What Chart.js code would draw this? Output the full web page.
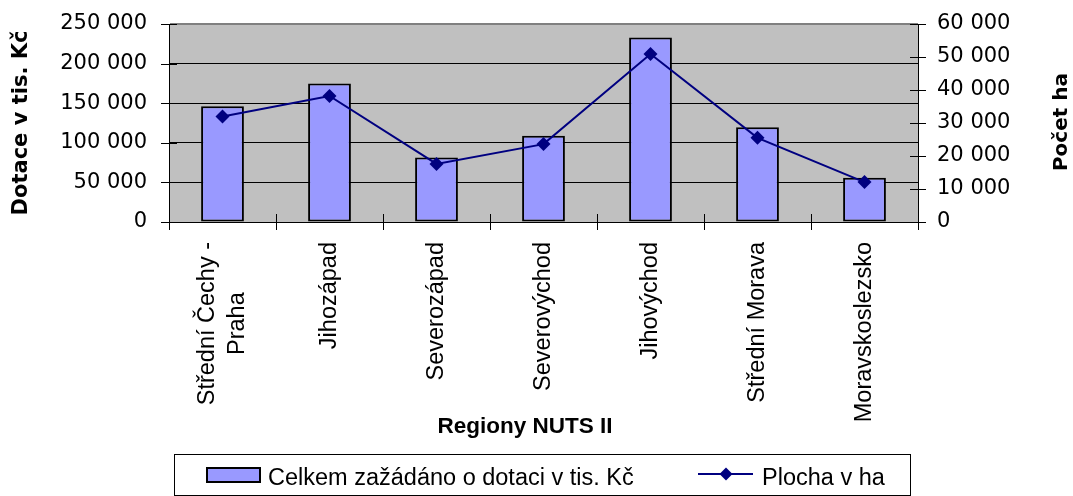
<!DOCTYPE html>
<html><head><meta charset="utf-8">
<script src="https://cdn.jsdelivr.net/npm/chart.js@4/dist/chart.umd.min.js"></script>
<style>html,body{margin:0;padding:0;background:#fff}#wrap{width:1073px;height:496px;position:relative}</style>
</head><body><div id="wrap"><canvas id="c" width="1073" height="496"></canvas></div>
<script>
// ---- data ----
const categories = [["Střední Čechy -", "Praha"], "Jihozápad", "Severozápad", "Severovýchod", "Jihovýchod", "Střední Morava", "Moravskoslezsko"];
const dotace = [146000, 175000, 81500, 109000, 233000, 119500, 56000];
const plocha = [32000, 38200, 17600, 23600, 50900, 25500, 12100];
const leftTickMax = 250000, leftTickStep = 50000;
const rightTickMax = 60000, rightTickStep = 10000;
const barLabel = "Celkem zažádáno o dotaci v tis. Kč";
const lineLabel = "Plocha v ha";
const xTitle = "Regiony NUTS II";
const yTitle = "Dotace v tis. Kč";
const y1Title = "Počet ha";

const BAR_FILL = '#9999FF', LINE_COL = '#000080';
const TICK_FONT = {family: 'DejaVu Sans', size: 21};
const fmt = v => String(v).replace(/\B(?=(\d{3})+(?!\d))/g, ' ');

const bgPlugin = {
  id: 'bg',
  beforeDraw(chart) {
    const {ctx, chartArea: a} = chart;
    ctx.save();
    ctx.fillStyle = '#fff';
    ctx.fillRect(0, 0, chart.width, chart.height);
    ctx.fillStyle = '#C0C0C0';
    ctx.fillRect(a.left, a.top, a.right - a.left, a.bottom - a.top);
    ctx.restore();
  }
};

function rotText(ctx, text, x, y, align, baseline) {
  ctx.save();
  ctx.translate(x, y);
  ctx.rotate(-Math.PI / 2);
  ctx.textAlign = align;
  ctx.textBaseline = baseline;
  ctx.fillText(text, 0, 0);
  ctx.restore();
}

const decoPlugin = {
  id: 'deco',
  afterDraw(chart) {
    const {ctx, chartArea: a, scales} = chart;
    const xs = scales.x, ys = scales.y, y1 = scales.y1;
    ctx.save();
    ctx.strokeStyle = '#000';
    ctx.lineWidth = 1;
    ctx.beginPath();
    ys.ticks.forEach(t => {
      const y = Math.round(ys.getPixelForValue(t.value)) + 0.5;
      ctx.moveTo(a.left - 8, y); ctx.lineTo(a.left + 8, y);
    });
    y1.ticks.forEach(t => {
      const y = Math.round(y1.getPixelForValue(t.value)) + 0.5;
      ctx.moveTo(a.right - 8, y); ctx.lineTo(a.right + 8, y);
    });
    const n = categories.length;
    const step = (a.right - a.left) / n;
    for (let i = 0; i <= n; i++) {
      const x = Math.round(xs.getPixelForValue(0) - step / 2 + i * step) + 0.5;
      ctx.moveTo(x, a.bottom - 8); ctx.lineTo(x, a.bottom + 8);
    }
    ctx.stroke();

    // category labels (rotated)
    ctx.fillStyle = '#000';
    ctx.font = '23.5px "Liberation Sans", Arial, sans-serif';
    const lh = 30;
    const topY = a.bottom + 20;
    categories.forEach((lab, i) => {
      const lines = Array.isArray(lab) ? lab : [lab];
      const cx = xs.getPixelForValue(i);
      const maxW = Math.max(...lines.map(l => ctx.measureText(l).width));
      const midY = topY + maxW / 2;
      lines.forEach((l, j) => {
        const x = cx + (j - (lines.length - 1) / 2) * lh;
        rotText(ctx, l, x, midY, 'center', 'middle');
      });
    });

    // axis titles
    ctx.font = 'bold 22.5px "Liberation Sans", Arial, sans-serif';
    ctx.textAlign = 'center';
    ctx.textBaseline = 'alphabetic';
    ctx.fillText(xTitle, 525, 433);
    ctx.font = 'bold 21px "DejaVu Sans", sans-serif';
    rotText(ctx, yTitle, 27, (a.top + a.bottom) / 2, 'center', 'alphabetic');
    ctx.font = 'bold 20px "DejaVu Sans", sans-serif';
    rotText(ctx, y1Title, 1067, (a.top + a.bottom) / 2 - 1, 'center', 'alphabetic');

    // legend
    const ds0 = chart.data.datasets[0], ds1 = chart.data.datasets[1];
    ctx.lineWidth = 1;
    ctx.strokeStyle = '#000';
    ctx.strokeRect(174.5, 454.5, 736, 41);
    ctx.fillStyle = ds0.backgroundColor;
    ctx.fillRect(207, 468, 53, 14);
    ctx.lineWidth = 2;
    ctx.strokeRect(207, 468, 53, 14);
    ctx.strokeStyle = ds1.borderColor;
    ctx.lineWidth = 2;
    ctx.beginPath(); ctx.moveTo(698, 474); ctx.lineTo(753, 474); ctx.stroke();
    ctx.fillStyle = ds1.pointBackgroundColor;
    ctx.beginPath();
    ctx.moveTo(726, 467.5); ctx.lineTo(732.5, 474); ctx.lineTo(726, 480.5); ctx.lineTo(719.5, 474); ctx.closePath();
    ctx.fill();
    ctx.fillStyle = '#000';
    ctx.font = '23.5px "Liberation Sans", Arial, sans-serif';
    ctx.textAlign = 'left';
    ctx.textBaseline = 'alphabetic';
    ctx.fillText(ds0.label, 268, 485);
    ctx.fillText(ds1.label, 762, 485);
    ctx.restore();
  }
};

new Chart(document.getElementById('c'), {
  type: 'bar',
  data: {
    labels: categories,
    datasets: [
      {type: 'bar', label: barLabel, data: dotace, yAxisID: 'y', order: 2,
       backgroundColor: BAR_FILL, borderColor: '#000', borderWidth: 2, borderSkipped: false,
       barPercentage: 0.4, categoryPercentage: 1.0},
      {type: 'line', label: lineLabel, data: plocha, yAxisID: 'y1', order: 1,
       borderColor: LINE_COL, borderWidth: 2, tension: 0, fill: false,
       pointStyle: 'rectRot', pointRadius: 7, pointBackgroundColor: LINE_COL, pointBorderColor: LINE_COL, pointBorderWidth: 0}
    ]
  },
  options: {
    responsive: false, animation: false, devicePixelRatio: 1,
    layout: {padding: {top: 24, left: 0, right: 0, bottom: 0}},
    plugins: {legend: {display: false}, tooltip: {enabled: false}},
    scales: {
      x: {
        type: 'category', offset: true,
        grid: {display: false, drawTicks: false},
        border: {display: true, color: '#000', width: 1},
        ticks: {display: false},
        afterFit: s => { s.height = 274; s.paddingLeft = 0; s.paddingRight = 0; }
      },
      y: {
        position: 'left', min: 0, max: leftTickMax,
        ticks: {stepSize: leftTickStep, callback: v => fmt(v), font: TICK_FONT, color: '#000', padding: 22},
        grid: {drawTicks: false,
               color: c => (c.tick && c.tick.value === leftTickMax) ? '#808080' : '#000',
               lineWidth: c => (c.tick && c.tick.value === leftTickMax) ? 2 : 1},
        border: {display: true, color: '#000', width: 1},
        afterFit: s => { s.width = 169; s.paddingTop = 0; s.paddingBottom = 0; }
      },
      y1: {
        position: 'right', min: 0, max: rightTickMax,
        ticks: {stepSize: rightTickStep, callback: v => fmt(v), font: TICK_FONT, color: '#000', padding: 19},
        grid: {display: false, drawTicks: false, drawOnChartArea: false},
        border: {display: true, color: '#000', width: 1},
        afterFit: s => { s.width = 155; s.paddingTop = 0; s.paddingBottom = 0; }
      }
    }
  },
  plugins: [bgPlugin, decoPlugin]
});
</script>
</body></html>
